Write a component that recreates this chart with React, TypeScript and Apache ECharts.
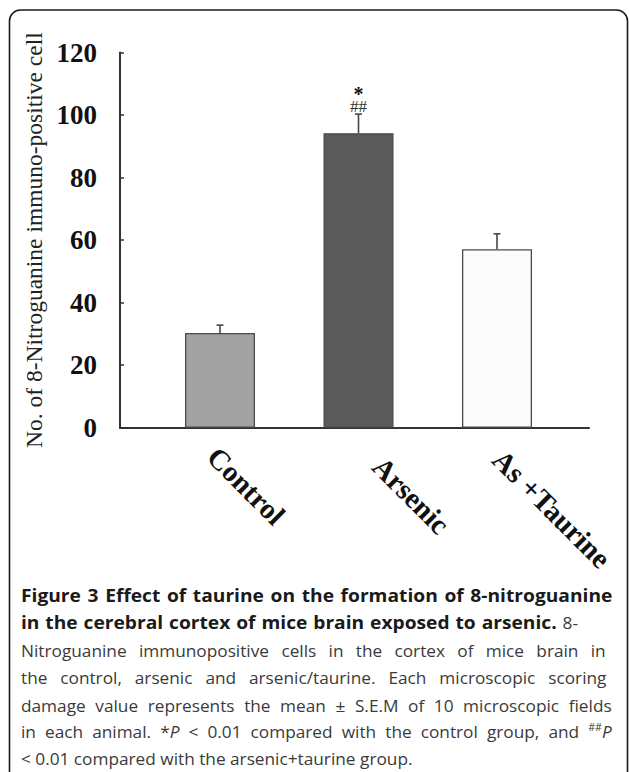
import React, { useEffect, useRef } from 'react';
import * as echarts from 'echarts';

// ---- data ----
const categories = ['Control', 'Arsenic', 'As +Taurine'];
const meanValues = [30.3, 94.2, 57.1];
const semValues = [2.5, 6.1, 4.9];
const starMarks = ['', '*', ''];
const hashMarks = ['', '##', ''];
const barFills = ['#a2a2a2', '#5a5a5a', '#fcfcfc'];
const yMin = 0;
const yMax = 120;
const yStep = 20;
const yTitle = 'No. of 8-Nitroguanine immuno-positive cell';

// caption, line by line: [style, text] pieces (b = bold, r = regular, i = italic, s = superscript)
const captionLines: [string, string][][] = [
  [['b', 'Figure 3 Effect of taurine on the formation of 8-nitroguanine']],
  [['b', 'in the cerebral cortex of mice brain exposed to arsenic.'], ['r', ' 8-']],
  [['r', 'Nitroguanine immunopositive cells in the cortex of mice brain in']],
  [['r', 'the control, arsenic and arsenic/taurine. Each microscopic scoring']],
  [['r', 'damage value represents the mean \u00b1 S.E.M of 10 microscopic fields']],
  [['r', 'in each animal. *'], ['i', 'P'], ['r', ' < 0.01 compared with the control group, and '], ['s', '##'], ['i', 'P']],
  [['r', '< 0.01 compared with the arsenic+taurine group.']],
];

const SERIF = '"Liberation Serif", "Times New Roman", serif';
const SANS = '"Open Sans", "Noto Sans", sans-serif';

// layout of the hand-placed category labels (along-text shift, drop)
const labelAlong = [1, 27, 9];
const labelDrop = [24, 0, 16];
// caption layout: baselines and justified right edges (null = ragged last line)
const captionBaselines = [601.7, 629, 656.7, 684, 711.7, 738, 765];
const captionRight: (number | null)[] = [612.5, 578, 605.7, 606.5, 611.7, 611.7, null];
const captionLeft = 21;
const BOLD_SCALE = 1.13;
const REG_SCALE = 1.015;

export default function App() {
  const ref = useRef<HTMLDivElement>(null);

  useEffect(() => {
    if (!ref.current) return;
    const chart = echarts.init(ref.current, null, { renderer: 'svg' });

    const gridTop = 52.5;
    const gridHeight = 375.2;

    const capFs = 17;
    const capStyles: Record<string, any> = {
      b: { fontFamily: SANS, fontSize: capFs, fontWeight: 'bold', fontStyle: 'normal', fill: '#1a1a1a', lineHeight: 20 },
      r: { fontFamily: SANS, fontSize: capFs, fontWeight: 'normal', fontStyle: 'normal', fill: '#3a3a3a', lineHeight: 20 },
      i: { fontFamily: SANS, fontSize: capFs, fontWeight: 'normal', fontStyle: 'italic', fill: '#3a3a3a', lineHeight: 20 },
      s: { fontFamily: SANS, fontSize: 10.5, fontWeight: 'normal', fontStyle: 'normal', fill: '#3a3a3a', lineHeight: 10, verticalAlign: 'top' },
    };
    const ctx = document.createElement('canvas').getContext('2d') as CanvasRenderingContext2D;
    const measure = (k: string, t: string) => {
      const st = capStyles[k];
      ctx.font = `${st.fontStyle} ${st.fontWeight} ${st.fontSize}px ${st.fontFamily}`;
      return ctx.measureText(t).width;
    };

    const captionGraphics: any[] = [];
    captionLines.forEach((segs, li) => {
      const words: [string, string][][] = [];
      let cur: [string, string][] = [];
      segs.forEach(([k, text]) => {
        const parts = text.split(' ');
        parts.forEach((p, j) => {
          if (j > 0) {
            if (cur.length) words.push(cur);
            cur = [];
          }
          if (p) cur.push([k, p]);
        });
      });
      if (cur.length) words.push(cur);
      const scales = words.map((w) => (w.every(([k]) => k === 'b') ? BOLD_SCALE : REG_SCALE));
      const widths = words.map(
        (w, wi) => w.reduce((s, [k, t]) => s + measure(k, t), 0) * scales[wi]
      );
      const total = widths.reduce((a, b) => a + b, 0);
      const right = captionRight[li];
      const gap =
        right === null || words.length < 2
          ? measure('r', ' ')
          : (right - captionLeft - total) / (words.length - 1);
      let x = captionLeft;
      words.forEach((w, wi) => {
        captionGraphics.push({
          type: 'text',
          x,
          y: captionBaselines[li] - 6.6,
          scaleX: scales[wi],
          style: {
            text: w.map(([k, t]) => `{${k}|${t}}`).join(''),
            rich: capStyles,
            fontFamily: SANS,
            fontSize: capFs,
            align: 'left',
            verticalAlign: 'middle',
          },
          z: 10,
        });
        x += widths[wi] + gap;
      });
    });

    const labelRich: Record<string, any> = {};
    categories.forEach((c, i) => {
      labelRich['g' + i] = { fontSize: 1, lineHeight: Math.max(labelDrop[i], 0.01) };
      labelRich['t' + i] = {
        fontFamily: SERIF,
        fontSize: 29,
        fontWeight: 'bold',
        color: '#111',
        padding: [0, 0, 0, labelAlong[i]],
      };
    });

    const option: any = {
      animation: false,
      backgroundColor: '#ffffff',
      grid: [
        { left: 150.75, top: gridTop, width: 415.5, height: gridHeight },
        { left: 120, top: gridTop, width: 469, height: gridHeight },
      ],
      xAxis: [
        {
          type: 'category',
          gridIndex: 0,
          data: categories,
          axisLine: { show: false },
          axisTick: { show: false },
          axisLabel: {
            interval: 0,
            rotate: -45,
            margin: 15,
            fontFamily: SERIF,
            fontSize: 29,
            fontWeight: 'bold',
            color: '#111',
            formatter: (v: string, i: number) =>
              labelDrop[i] > 0 ? `{g${i}| }\n{t${i}|${v}}` : `{t${i}|${v}}`,
            rich: labelRich,
          },
        },
        {
          type: 'value',
          gridIndex: 1,
          min: 0,
          max: 1,
          axisLine: { show: true, onZero: false, lineStyle: { color: '#333', width: 2 } },
          axisTick: { show: false },
          axisLabel: { show: false },
          splitLine: { show: false },
        },
      ],
      yAxis: [
        {
          type: 'value',
          gridIndex: 0,
          min: yMin,
          max: yMax,
          interval: yStep,
          show: false,
        },
        {
          type: 'value',
          gridIndex: 1,
          min: yMin,
          max: yMax,
          interval: yStep,
          name: yTitle,
          nameLocation: 'middle',
          nameRotate: 90,
          nameGap: 59,
          nameTextStyle: { fontFamily: SERIF, fontSize: 23.5, color: '#222' },
          axisLine: { show: true, lineStyle: { color: '#333', width: 2 } },
          axisTick: { show: true, inside: true, length: 4, lineStyle: { color: '#333', width: 1.5 } },
          axisLabel: {
            margin: 23,
            fontFamily: SERIF,
            fontSize: 27,
            fontWeight: 'bold',
            color: '#111',
          },
          splitLine: { show: false },
        },
      ],
      series: [
        {
          type: 'bar',
          xAxisIndex: 0,
          yAxisIndex: 0,
          barWidth: 70,
          data: meanValues.map((v, i) => ({
            value: v,
            itemStyle: { color: barFills[i], borderColor: '#4a4a4a', borderWidth: 1.3 },
          })),
          z: 2,
        },
        {
          type: 'custom',
          xAxisIndex: 0,
          yAxisIndex: 0,
          clip: false,
          z: 3,
          data: categories.map((c, i) => [i, meanValues[i], semValues[i]]),
          encode: { x: 0, y: 1 },
          renderItem: (params: any, api: any) => {
            const idx = api.value(0) as number;
            const m = api.value(1) as number;
            const e = api.value(2) as number;
            const p0 = api.coord([idx, m]);
            const p1 = api.coord([idx, m + e]);
            const stroke = { stroke: '#474747', lineWidth: 1.6 };
            const children: any[] = [
              { type: 'line', shape: { x1: p0[0], y1: p0[1], x2: p1[0], y2: p1[1] }, style: stroke },
              { type: 'line', shape: { x1: p1[0] - 3.5, y1: p1[1], x2: p1[0] + 3.5, y2: p1[1] }, style: stroke },
            ];
            if (hashMarks[idx]) {
              children.push({
                type: 'text',
                x: p1[0],
                y: p1[1] - 8,
                style: {
                  text: hashMarks[idx],
                  fontFamily: SERIF,
                  fontSize: 17,
                  lineHeight: 11,
                  fill: '#333',
                  align: 'center',
                  verticalAlign: 'middle',
                },
              });
            }
            if (starMarks[idx]) {
              children.push({
                type: 'text',
                x: p1[0],
                y: p1[1] - 20,
                style: {
                  text: starMarks[idx],
                  fontFamily: SERIF,
                  fontSize: 20,
                  lineHeight: 10,
                  fontWeight: 'bold',
                  fill: '#111',
                  align: 'center',
                  verticalAlign: 'middle',
                },
              });
            }
            return { type: 'group', children };
          },
        },
      ],
      graphic: [
        {
          type: 'rect',
          shape: { x: 9.5, y: 10, width: 618, height: 800, r: 11 },
          style: { fill: 'none', stroke: '#1a1a1a', lineWidth: 1.6 },
          z: 10,
        },
        ...captionGraphics,
      ],
    };

    chart.setOption(option);
    return () => {
      chart.dispose();
    };
  }, []);

  return (
    <div
      ref={ref}
      style={{ position: 'absolute', left: 0, top: 0, width: 629, height: 772 }}
    />
  );
}
